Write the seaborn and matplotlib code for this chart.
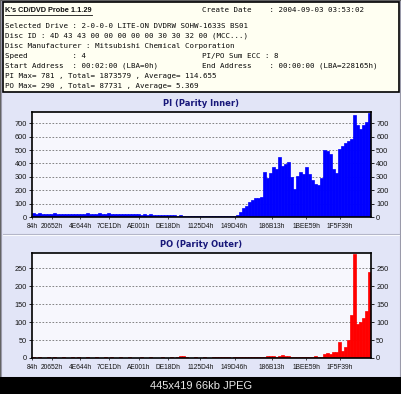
import numpy as np
import matplotlib
matplotlib.use('Agg')
import matplotlib.pyplot as plt
from matplotlib.patches import Rectangle
import seaborn as sns

W, H = 402, 394

# header texts
app_title = "K's CD/DVD Probe 1.1.29"
info_left = [
    "Selected Drive : 2-0-0-0 LITE-ON DVDRW SOHW-1633S BS01",
    "Disc ID : 4D 43 43 00 00 00 00 00 30 30 32 00 (MCC...)",
    "Disc Manufacturer : Mitsubishi Chemical Corporation",
    "Speed          : 4",
    "Start Address  : 00:02:00 (LBA=0h)",
    "PI Max= 781 , Total= 1873579 , Average= 114.655",
    "PO Max= 290 , Total= 87731 , Average= 5.369",
]
info_right = {
    0: "Create Date    : 2004-09-03 03:53:02",
    4: "PI/PO Sum ECC : 8",
    5: "End Address    : 00:00:00 (LBA=228165h)",
}
footer = "445x419 66kb JPEG"

# x axis (LBA)
end_lba = 0x228165
tick_lba = [0x84, 0x20652, 0x4E644, 0x7CE1D, 0xAE001, 0xDE18D,
            0x1125D4, 0x149D46, 0x186B13, 0x1BEE59, 0x1F5F39]
tick_labels = ['84h', '20652h', '4E644h', '7CE1Dh', 'AE001h', 'DE18Dh',
               '1125D4h', '149D46h', '186B13h', '1BEE59h', '1F5F39h']

# PI (Parity Inner) samples
pi_values = [28, 25, 27, 24, 26, 22, 25, 27, 23, 24, 26,
             22, 25, 23, 26, 24, 21, 25, 27, 24, 22, 26,
             28, 25, 23, 27, 24, 26, 22, 24, 21, 23, 20,
             22, 19, 21, 18, 20, 17, 19, 16, 18, 15, 14,
             16, 13, 12, 14, 11, 12, 10, 11, 9, 10, 8,
             9, 7, 8, 6, 7, 8, 6, 7, 9, 8, 10, 9,
             8, 12, 40, 65, 85, 110, 130, 145, 140, 150,
             340, 290, 330, 375, 360, 450, 380, 395, 410, 300,
             210, 310, 340, 320, 375, 320, 280, 250, 240, 290,
             500, 490, 470, 360, 330, 510, 530, 550, 570, 580,
             760, 690, 660, 690, 710, 781]
pi_ticks = [0, 100, 200, 300, 400, 500, 600, 700]

# PO (Parity Outer) samples
po_values = [2, 1, 2, 1, 1, 2, 1, 2, 1, 1, 2,
             1, 1, 2, 1, 2, 1, 1, 2, 1, 1, 2,
             1, 1, 2, 1, 2, 1, 1, 2, 1, 1, 2,
             1, 1, 1, 2, 1, 1, 2, 1, 1, 1, 2,
             1, 1, 2, 1, 2, 5, 6, 3, 1, 1, 2,
             1, 1, 2, 1, 1, 2, 2, 3, 4, 3, 2, 1,
             2, 2, 2, 2, 3, 3, 3, 3, 2, 3,
             4, 5, 6, 5, 4, 6, 7, 6, 5, 3,
             3, 4, 3, 4, 4, 3, 4, 5, 4, 4,
             12, 13, 12, 16, 17, 44, 20, 30, 50, 120,
             290, 95, 100, 110, 130, 240]
po_ticks = [0, 50, 100, 150, 200, 250]

panel_col = '#e2e5f7'
plot_col = '#f7f7fd'
title_col = '#18187a'

fig = plt.figure(figsize=(W / 100, H / 100), dpi=100)
fig.patch.set_facecolor('#606060')

# background layer in pixel coords
bg = fig.add_axes([0, 0, 1, 1])
bg.set_xlim(0, W)
bg.set_ylim(H, 0)
bg.axis('off')
bg.add_patch(Rectangle((1.5, 1), W - 3, 376, facecolor=panel_col, edgecolor='#9a9aaa', lw=0.8))
bg.add_patch(Rectangle((0, 377), W, H - 377, facecolor='black', edgecolor='none'))
bg.add_patch(Rectangle((3, 2), W - 6, 90, facecolor='#fffff2', edgecolor='black', lw=1.2))
bg.plot([3, W - 3], [234, 234], color='#b4b6c8', lw=0.8)
bg.plot([3, W - 3], [235, 235], color='white', lw=0.6)

t = bg.text(5, 10, app_title, fontsize=5.3, fontweight='bold', family='Liberation Sans',
            color='#101010', va='center', ha='left')
for i, line in enumerate(info_left):
    bg.text(5, 26 + 10 * i, line, fontsize=5.4, family='DejaVu Sans Mono',
            color='#0a0a0a', va='center', ha='left')
bg.text(202, 10, info_right[0], fontsize=5.4, family='DejaVu Sans Mono',
        color='#0a0a0a', va='center', ha='left')
for k in (4, 5):
    bg.text(202, 26 + 10 * (k - 1), info_right[k], fontsize=5.4, family='DejaVu Sans Mono',
            color='#0a0a0a', va='center', ha='left')
bg.text(W / 2, 386, footer, fontsize=8, family='Liberation Sans', color='#e8e8e8',
        va='center', ha='center')

# underline of the program title
fig.canvas.draw()
bb = t.get_window_extent()
x0 = bb.x0 / fig.dpi * 100
x1 = bb.x1 / fig.dpi * 100
bg.plot([x0, x1], [14.5, 14.5], color='#101010', lw=0.6)


def chart(top, values, ticks, ymax, color, title):
    l, r, b = 32, 371, top + 105
    ax = fig.add_axes([l / W, 1 - b / H, (r - l) / W, (b - top) / H])
    ax.set_facecolor(plot_col)
    n = len(values)
    step = end_lba / n
    centers = (np.arange(n) + 0.5) * step
    sns.barplot(x=centers, y=values, native_scale=True, width=1.0, color=color,
                saturation=1, errorbar=None, linewidth=0.5, edgecolor=color, ax=ax)
    ax.set_xlim(0, end_lba)
    ax.set_ylim(0, ymax)
    ax.set_axisbelow(True)
    ax.yaxis.grid(True, color='#707070', linestyle=(0, (2, 2)), linewidth=0.6)
    ax.set_yticks(ticks)
    ax.set_xticks(tick_lba)
    ax.set_xticklabels(tick_labels)
    ax.set_xlabel('')
    ax.set_ylabel('')
    ax.tick_params(axis='y', left=True, right=True, labelleft=True, labelright=True,
                   labelsize=5.3, length=2.5, width=0.6, pad=1.2, labelcolor='#141414',
                   labelfontfamily='Liberation Sans')
    ax.tick_params(axis='x', labelsize=4.8, length=1.5, width=0.5, pad=2.5,
                   labelcolor='#141414', labelfontfamily='Liberation Sans')
    for s in ax.spines.values():
        s.set_color('black')
        s.set_linewidth(1.2)
    ax.set_title(title, fontsize=6, fontweight='bold', color=title_col, pad=4)
    return ax


chart(112, pi_values, pi_ticks, 785, '#0000ff', 'PI (Parity Inner)')
chart(253, po_values, po_ticks, 292, '#ff0000', 'PO (Parity Outer)')

fig.savefig('out.png', dpi=100, facecolor=fig.get_facecolor())
